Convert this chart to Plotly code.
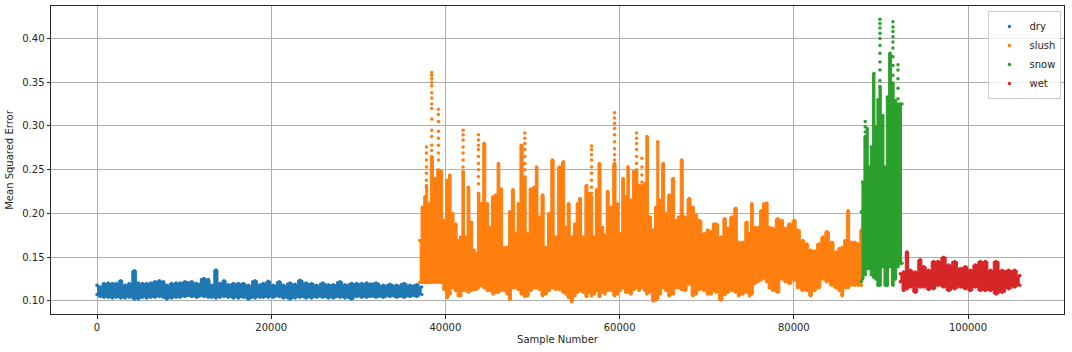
import plotly.graph_objects as go

# Sample numbers and the upper / lower edge of each dense band
dry_x = [0,345,800,1300,1760,2180,2720,3210,3710,4290,4750,5240,5700,6160,6660,7160,7620,8000,8570,9070,9530,10100,10870,11440,12280,12780,13160,13660,14120,14580,15080,15650,16230,16800,17370,18140,18710,19100,19670,20240,20930,21390,22160,22730,23310,23990,24640,25220,25910,26560,27130,27900,28470,29240,29810,30390,30960,32030,32870,33640,34400,35250,35930,36700,37280]
dry_hi = [.118,.116,.120,.1205,.120,.120,.123,.118,.120,.1345,.1205,.120,.120,.1205,.122,.123,.122,.118,.120,.1205,.1205,.122,.122,.120,.1256,.1244,.118,.1353,.120,.123,.1186,.120,.120,.120,.118,.123,.1186,.120,.1225,.118,.122,.118,.1205,.119,.1236,.1205,.120,.118,.1205,.1186,.1186,.122,.1186,.120,.120,.120,.1205,.1205,.118,.119,.118,.120,.118,.1186,.116]
dry_lo = [.1074,.105,.1043,.1043,.1035,.1043,.1035,.1035,.1043,.1023,.1023,.1043,.1035,.1043,.1043,.105,.1043,.1023,.1035,.1043,.1043,.105,.105,.1043,.105,.1043,.1043,.1035,.1043,.105,.1043,.1035,.1035,.1043,.1023,.1035,.1043,.1043,.1043,.1043,.105,.1035,.1023,.1035,.1043,.1035,.1035,.1043,.1043,.1035,.1035,.1043,.1035,.1023,.105,.1043,.1043,.1043,.1043,.105,.1043,.1043,.105,.105,.1074]

slush_x = [37050,37360,37660,37820,38120,38430,38810,39200,39540,39850,40230,40500,40800,41190,41490,41760,42030,42340,42640,42990,43290,43560,43790,44140,44440,44830,45090,45480,45780,46090,46400,46740,47120,47390,47770,48080,48390,48730,49120,49420,49800,50190,50460,50800,51150,51530,51910,52290,52680,53100,53560,53830,54130,54520,54860,55170,55430,55820,56200,56510,56780,57080,57350,57690,58040,58310,58610,59000,59420,59760,60070,60410,60720,60950,61290,61640,61950,62250,62560,62900,63130,63480,63860,64170,
           64370,64640,65020,65330,65710,66170,66480,66790,67130,67480,68010,68400,68780,69160,69740,70120,70500,70810,71080,71650,72070,72420,72880,73340,73680,74140,74600,74910,75170,75520,75860,76250,76550,76900,77200,77590,78160,78620,79040,79500,80080,80460,81030,81490,81920,82370,82870,83330,83790,84370,84860,85250,85550,85900,86240,86590,87010,87390,87770]
slush_hi = [.169,.207,.219,.230,.211,.265,.240,.250,.248,.192,.238,.244,.200,.188,.169,.173,.248,.173,.230,.190,.158,.154,.223,.211,.280,.211,.184,.219,.221,.257,.228,.161,.161,.202,.227,.177,.211,.278,.242,.177,.228,.230,.253,.196,.221,.161,.200,.261,.173,.253,.259,.184,.211,.173,.188,.211,.217,.173,.232,.223,.219,.173,.227,.257,.184,.175,.225,.207,.257,.211,.177,.240,.219,.253,.215,.248,.248,.232,.232,.234,.288,.196,.181,.207,
            .282,.215,.257,.200,.221,.240,.192,.196,.261,.196,.217,.207,.198,.192,.177,.181,.179,.188,.188,.173,.194,.183,.196,.206,.167,.167,.190,.177,.211,.184,.184,.203,.211,.212,.184,.183,.194,.192,.183,.188,.192,.181,.169,.165,.158,.157,.165,.173,.179,.167,.156,.160,.161,.169,.203,.167,.167,.165,.181]
slush_lo = [.121,.121,.121,.121,.121,.121,.121,.121,.121,.113,.104,.108,.115,.112,.106,.106,.112,.112,.110,.112,.113,.113,.115,.118,.115,.112,.112,.108,.110,.110,.112,.112,.108,.102,.115,.115,.113,.108,.105,.106,.112,.115,.115,.113,.106,.108,.112,.115,.113,.113,.110,.108,.104,.099,.106,.110,.112,.110,.105,.110,.106,.108,.112,.105,.110,.108,.112,.112,.106,.108,.112,.115,.110,.110,.108,.113,.115,.112,.115,.112,.108,.110,.100,.101,
            .103,.108,.115,.112,.106,.108,.115,.115,.113,.112,.119,.106,.108,.113,.112,.108,.108,.112,.110,.101,.107,.110,.112,.110,.106,.108,.110,.106,.108,.120,.122,.124,.126,.122,.115,.112,.110,.125,.122,.120,.124,.115,.112,.112,.106,.112,.115,.125,.122,.118,.115,.112,.106,.115,.115,.118,.118,.118,.118]
# Isolated points above the solid band
slush_px = [38430]*14 + [39200]*8 + [37820]*7 + [42030]*7 + [43790]*9 + [49120]*7 + [56780]*9 + [59420]*9 + [61950]*7 + [62560]*4
slush_py = [.361,.358,.354,.350,.346,.338,.332,.325,.320,.308,.295,.288,.278,.272,
            .319,.313,.305,.294,.286,.278,.269,.261,
            .276,.269,.261,.253,.246,.238,.232,
            .295,.290,.284,.276,.269,.261,.253,
            .290,.284,.278,.273,.265,.257,.250,.242,.234,
            .292,.286,.280,.273,.265,.257,.250,
            .277,.273,.267,.261,.253,.246,.238,.230,.223,
            .315,.309,.303,.297,.290,.282,.274,.267,.261,
            .292,.286,.280,.273,.265,.257,.250,
            .263,.253,.244,.236]

snow_x = [87740,87900,88200,88430,88660,88890,89200,89430,89660,89890,90200,90500,90730,91040,91380,91650,91960,92220,92420]
snow_hi = [.202,.236,.286,.297,.253,.276,.360,.299,.330,.345,.312,.253,.333,.383,.349,.329,.325,.325,.325]
snow_lo = [.122,.125,.130,.137,.137,.130,.127,.125,.118,.118,.139,.118,.118,.139,.118,.125,.139,.143,.143]
snow_px = [88200]*4 + [89890]*10 + [91380]*9 + [91960]*5
snow_py = [.305,.299,.293,.288,
           .422,.417,.412,.406,.400,.392,.383,.373,.364,.352,
           .419,.413,.408,.402,.396,.389,.379,.369,.358,
           .370,.364,.354,.343,.331]

wet_x = [92230,92610,92990,93370,93950,94520,94910,95480,96060,96550,97200,97780,98470,99120,99690,100270,100840,101420,101990,102570,103220,103910,104670,105360,105940]
wet_hi = [.131,.133,.156,.135,.133,.147,.139,.135,.145,.145,.150,.141,.145,.137,.139,.135,.141,.145,.145,.135,.145,.135,.135,.135,.129]
wet_lo = [.122,.112,.114,.116,.110,.116,.116,.113,.114,.118,.116,.112,.114,.116,.114,.112,.116,.112,.112,.112,.108,.110,.114,.116,.118]

x_ticks = [0,20000,40000,60000,80000,100000]
y_ticks = [.10,.15,.20,.25,.30,.35,.40]

SERIES = [
    ("dry", "#1f77b4", dry_x, dry_hi, dry_lo, [], []),
    ("slush", "#ff7f0e", slush_x, slush_hi, slush_lo, slush_px, slush_py),
    ("snow", "#2ca02c", snow_x, snow_hi, snow_lo, snow_px, snow_py),
    ("wet", "#d62728", wet_x, wet_hi, wet_lo, [], []),
]

FONT = "DejaVu Sans"
fig = go.Figure()
for name, col, xs, hi, lo, px, py in SERIES:
    fig.add_trace(go.Scatter(x=xs, y=lo, mode="lines", showlegend=False, hoverinfo="skip",
                             line=dict(color=col, width=1, shape="hvh")))
    fig.add_trace(go.Scatter(x=xs, y=hi, mode="lines", showlegend=False, hoverinfo="skip",
                             line=dict(color=col, width=1, shape="hvh"),
                             fill="tonexty", fillcolor=col))
    fig.add_trace(go.Scatter(x=xs + xs + px, y=hi + lo + py, mode="markers", name=name,
                             marker=dict(color=col, size=3.5, line=dict(width=0))))

axis = dict(showgrid=True, gridcolor="#b0b0b0", gridwidth=1, zeroline=False, showline=True,
            linecolor="#262626", linewidth=1, mirror=True, ticks="outside", ticklen=3.5,
            tickwidth=1, tickcolor="#262626", tickfont=dict(family=FONT, size=10, color="#262626"))
fig.update_layout(
    width=1072, height=352, margin=dict(l=51, r=8, t=6, b=38),
    paper_bgcolor="white", plot_bgcolor="white",
    font=dict(family=FONT, size=10, color="#262626"),
    xaxis=dict(axis, range=[-5281, 111020], tickvals=x_ticks, tickformat="d",
               title=dict(text="Sample Number", font=dict(family=FONT, size=10), standoff=4)),
    yaxis=dict(axis, range=[.0851, .4371], tickvals=y_ticks, tickformat=".2f",
               title=dict(text="Mean Squared Error", font=dict(family=FONT, size=10), standoff=6)),
    legend=dict(x=0.9975, y=0.984, xanchor="right", yanchor="top", traceorder="normal",
                bgcolor="rgba(255,255,255,0.8)", bordercolor="#cccccc", borderwidth=1,
                font=dict(family=FONT, size=10, color="#262626"), itemwidth=30),
)
fig.write_html("out.html", config=dict(displayModeBar=False),
               post_script="document.body.style.margin='0';document.body.style.overflow='hidden';")
